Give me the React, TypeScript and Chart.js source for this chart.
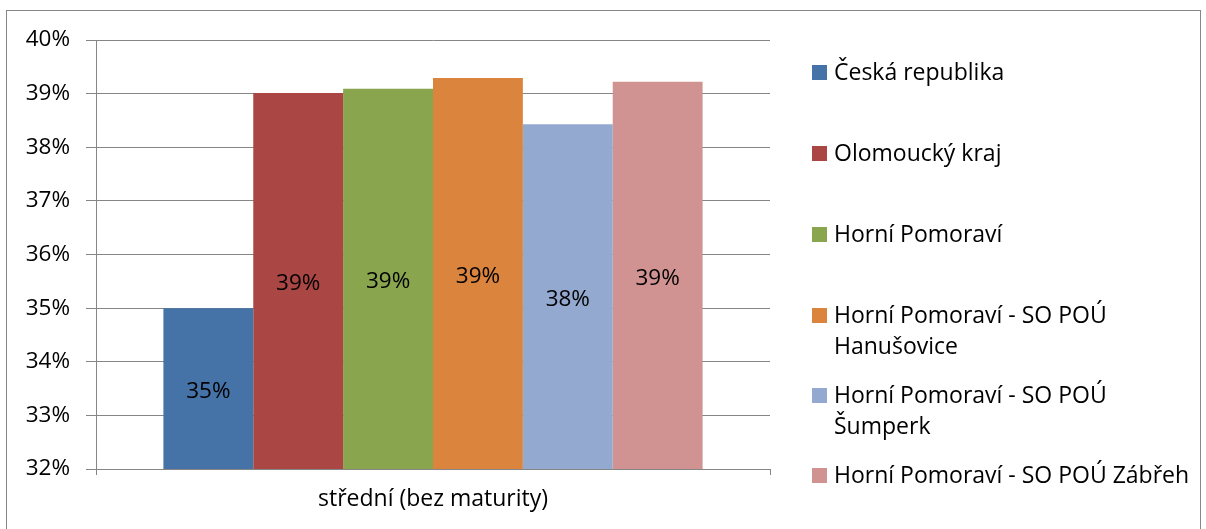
import React, { useEffect, useRef } from "react";
import { Chart, registerables } from "chart.js";

Chart.register(...registerables);

const categories = ["střední (bez maturity)"];
const seriesNames = [
  "Česká republika",
  "Olomoucký kraj",
  "Horní Pomoraví",
  "Horní Pomoraví - SO POÚ Hanušovice",
  "Horní Pomoraví - SO POÚ Šumperk",
  "Horní Pomoraví - SO POÚ Zábřeh",
];
const legendLines = [
  ["Česká republika"],
  ["Olomoucký kraj"],
  ["Horní Pomoraví"],
  ["Horní Pomoraví - SO POÚ", "Hanušovice"],
  ["Horní Pomoraví - SO POÚ", "Šumperk"],
  ["Horní Pomoraví - SO POÚ Zábřeh"],
];
const seriesValues = [35.0, 39.01, 39.09, 39.29, 38.43, 39.22];
const seriesColors = ["#4572A7", "#AA4643", "#89A54E", "#DB843D", "#93A9CF", "#D19392"];
const yMin = 32;
const yMax = 40;
const yStep = 1;

const FONT = "'Open Sans', sans-serif";
const NUM_SIZE = 22.5;
const TEXT_SIZE = 23;
const GRID = "#868686";

const extrasPlugin = {
  id: "extras",
  afterDraw(chart: any) {
    const ctx = chart.ctx;
    const ys = chart.scales.y;
    ctx.save();
    // frame
    ctx.strokeStyle = GRID;
    ctx.lineWidth = 1;
    ctx.strokeRect(6.5, 10.5, 1194, 540);
    // data labels
    ctx.fillStyle = "#000";
    ctx.font = `${NUM_SIZE}px ${FONT}`;
    ctx.textAlign = "center";
    ctx.textBaseline = "middle";
    chart.data.datasets.forEach((ds: any, i: number) => {
      const meta = chart.getDatasetMeta(i);
      meta.data.forEach((bar: any, j: number) => {
        const v = ds.data[j];
        const top = ys.getPixelForValue(v);
        const bottom = ys.getPixelForValue(ys.min);
        ctx.fillText(Math.round(v) + "%", bar.x, (top + bottom) / 2 + 3);
      });
    });
    // legend
    const itemY = [72, 153, 234, 315, 395, 475];
    ctx.textAlign = "left";
    ctx.font = `${TEXT_SIZE}px ${FONT}`;
    legendLines.forEach((lines, i) => {
      const y = itemY[i];
      ctx.fillStyle = seriesColors[i];
      ctx.fillRect(812, y - 7, 15, 15);
      ctx.fillStyle = "#000";
      lines.forEach((ln, k) => {
        ctx.fillText(ln, 834, y + 1 + k * 31);
      });
    });
    ctx.restore();
  },
};

export default function App() {
  const ref = useRef<HTMLCanvasElement>(null);
  useEffect(() => {
    const canvas = ref.current!;
    const chart = new Chart(canvas, {
      type: "bar",
      data: {
        labels: categories,
        datasets: seriesNames.map((name, i) => ({
          label: name,
          data: [seriesValues[i]],
          backgroundColor: seriesColors[i],
          borderWidth: 0,
          categoryPercentage: 0.8,
          barPercentage: 1.0,
        })),
      },
      options: {
        animation: false,
        responsive: false,
        maintainAspectRatio: false,
        devicePixelRatio: 1,
        layout: { padding: { left: 0, right: 436, top: 40, bottom: 0 } },
        plugins: {
          legend: { display: false },
          tooltip: { enabled: false },
          title: { display: false },
        },
        scales: {
          x: {
            grid: {
              display: true,
              drawOnChartArea: false,
              offset: true,
              color: GRID,
              tickLength: 6,
            },
            border: { display: true, color: GRID },
            ticks: {
              color: "#000",
              font: { family: FONT, size: TEXT_SIZE },
              padding: 11,
            },
            afterFit: (s: any) => {
              s.height = 60;
            },
          },
          y: {
            min: yMin,
            max: yMax,
            grid: { color: GRID, tickLength: 10 },
            border: { display: true, color: GRID },
            ticks: {
              stepSize: yStep,
              color: "#000",
              font: { family: FONT, size: NUM_SIZE },
              padding: 16,
              callback: (v: any) => v + "%",
            },
            afterFit: (s: any) => {
              s.width = 96;
            },
          },
        },
      },
      plugins: [extrasPlugin],
    });
    return () => chart.destroy();
  }, []);
  return (
    <div style={{ position: "fixed", left: 0, top: 0, width: 1206, height: 529, background: "#fff" }}>
      <canvas ref={ref} width={1206} height={529} style={{ width: 1206, height: 529, display: "block" }} />
    </div>
  );
}
